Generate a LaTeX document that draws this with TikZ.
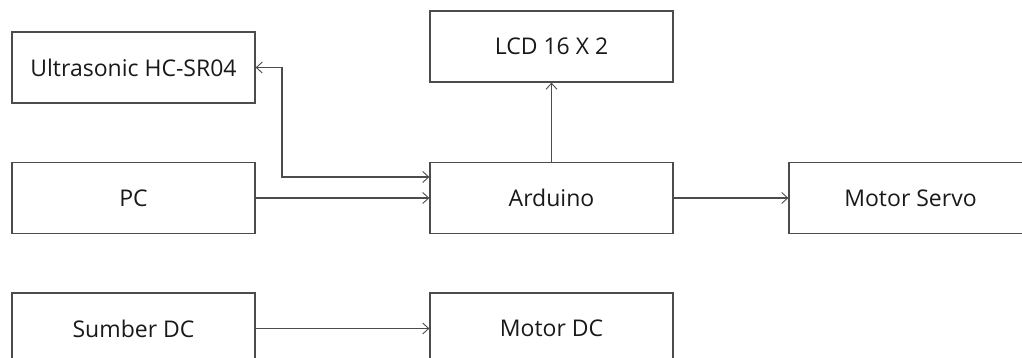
\documentclass[tikz,border=0pt]{standalone}
\usepackage{fontspec}
\setmainfont{Open Sans}
\usetikzlibrary{arrows.meta}
\begin{document}
\begin{tikzpicture}[x=1pt,y=-1pt,
  block/.style={draw=black!70, line width=1.3pt, minimum width=243pt, minimum height=71pt, inner sep=0pt, font=\fontsize{23}{27}\selectfont, text=black!90},
  conn/.style={draw=black!70, line width=1.2pt, -{Straight Barb[length=6pt,width=11pt,line width=0.9pt]}},
  conn2/.style={draw=black!70, line width=1.2pt, {Straight Barb[length=6pt,width=11pt,line width=0.9pt]}-{Straight Barb[length=6pt,width=11pt,line width=0.9pt]}}]
\useasboundingbox (0,0) rectangle (1022,358);
\clip (0,0) rectangle (1022,358);
\node[block] (us) at (133.5,67.5) {Ultrasonic HC-SR04};
\node[block] (lcd) at (551.5,46.5) {LCD 16 X 2};
\node[block] (pc) at (133.5,198) {PC};
\node[block] (ard) at (551.5,198) {Arduino};
\node[block] (servo) at (910.5,198) {Motor Servo};
\node[block] (sdc) at (133.5,328.5) {Sumber DC};
\node[block] (mdc) at (551.5,328.5) {Motor DC};
\coordinate (bend) at (282,177);
\draw[conn2] (us.east) -| (bend) -- ([yshift=21pt]ard.west);
\draw[conn] (pc.east) -- (ard.west);
\draw[conn] (ard.north) -- (lcd.south);
\draw[conn] (ard.east) -- (servo.west);
\draw[conn] (sdc.east) -- (mdc.west);
\end{tikzpicture}
\end{document}
